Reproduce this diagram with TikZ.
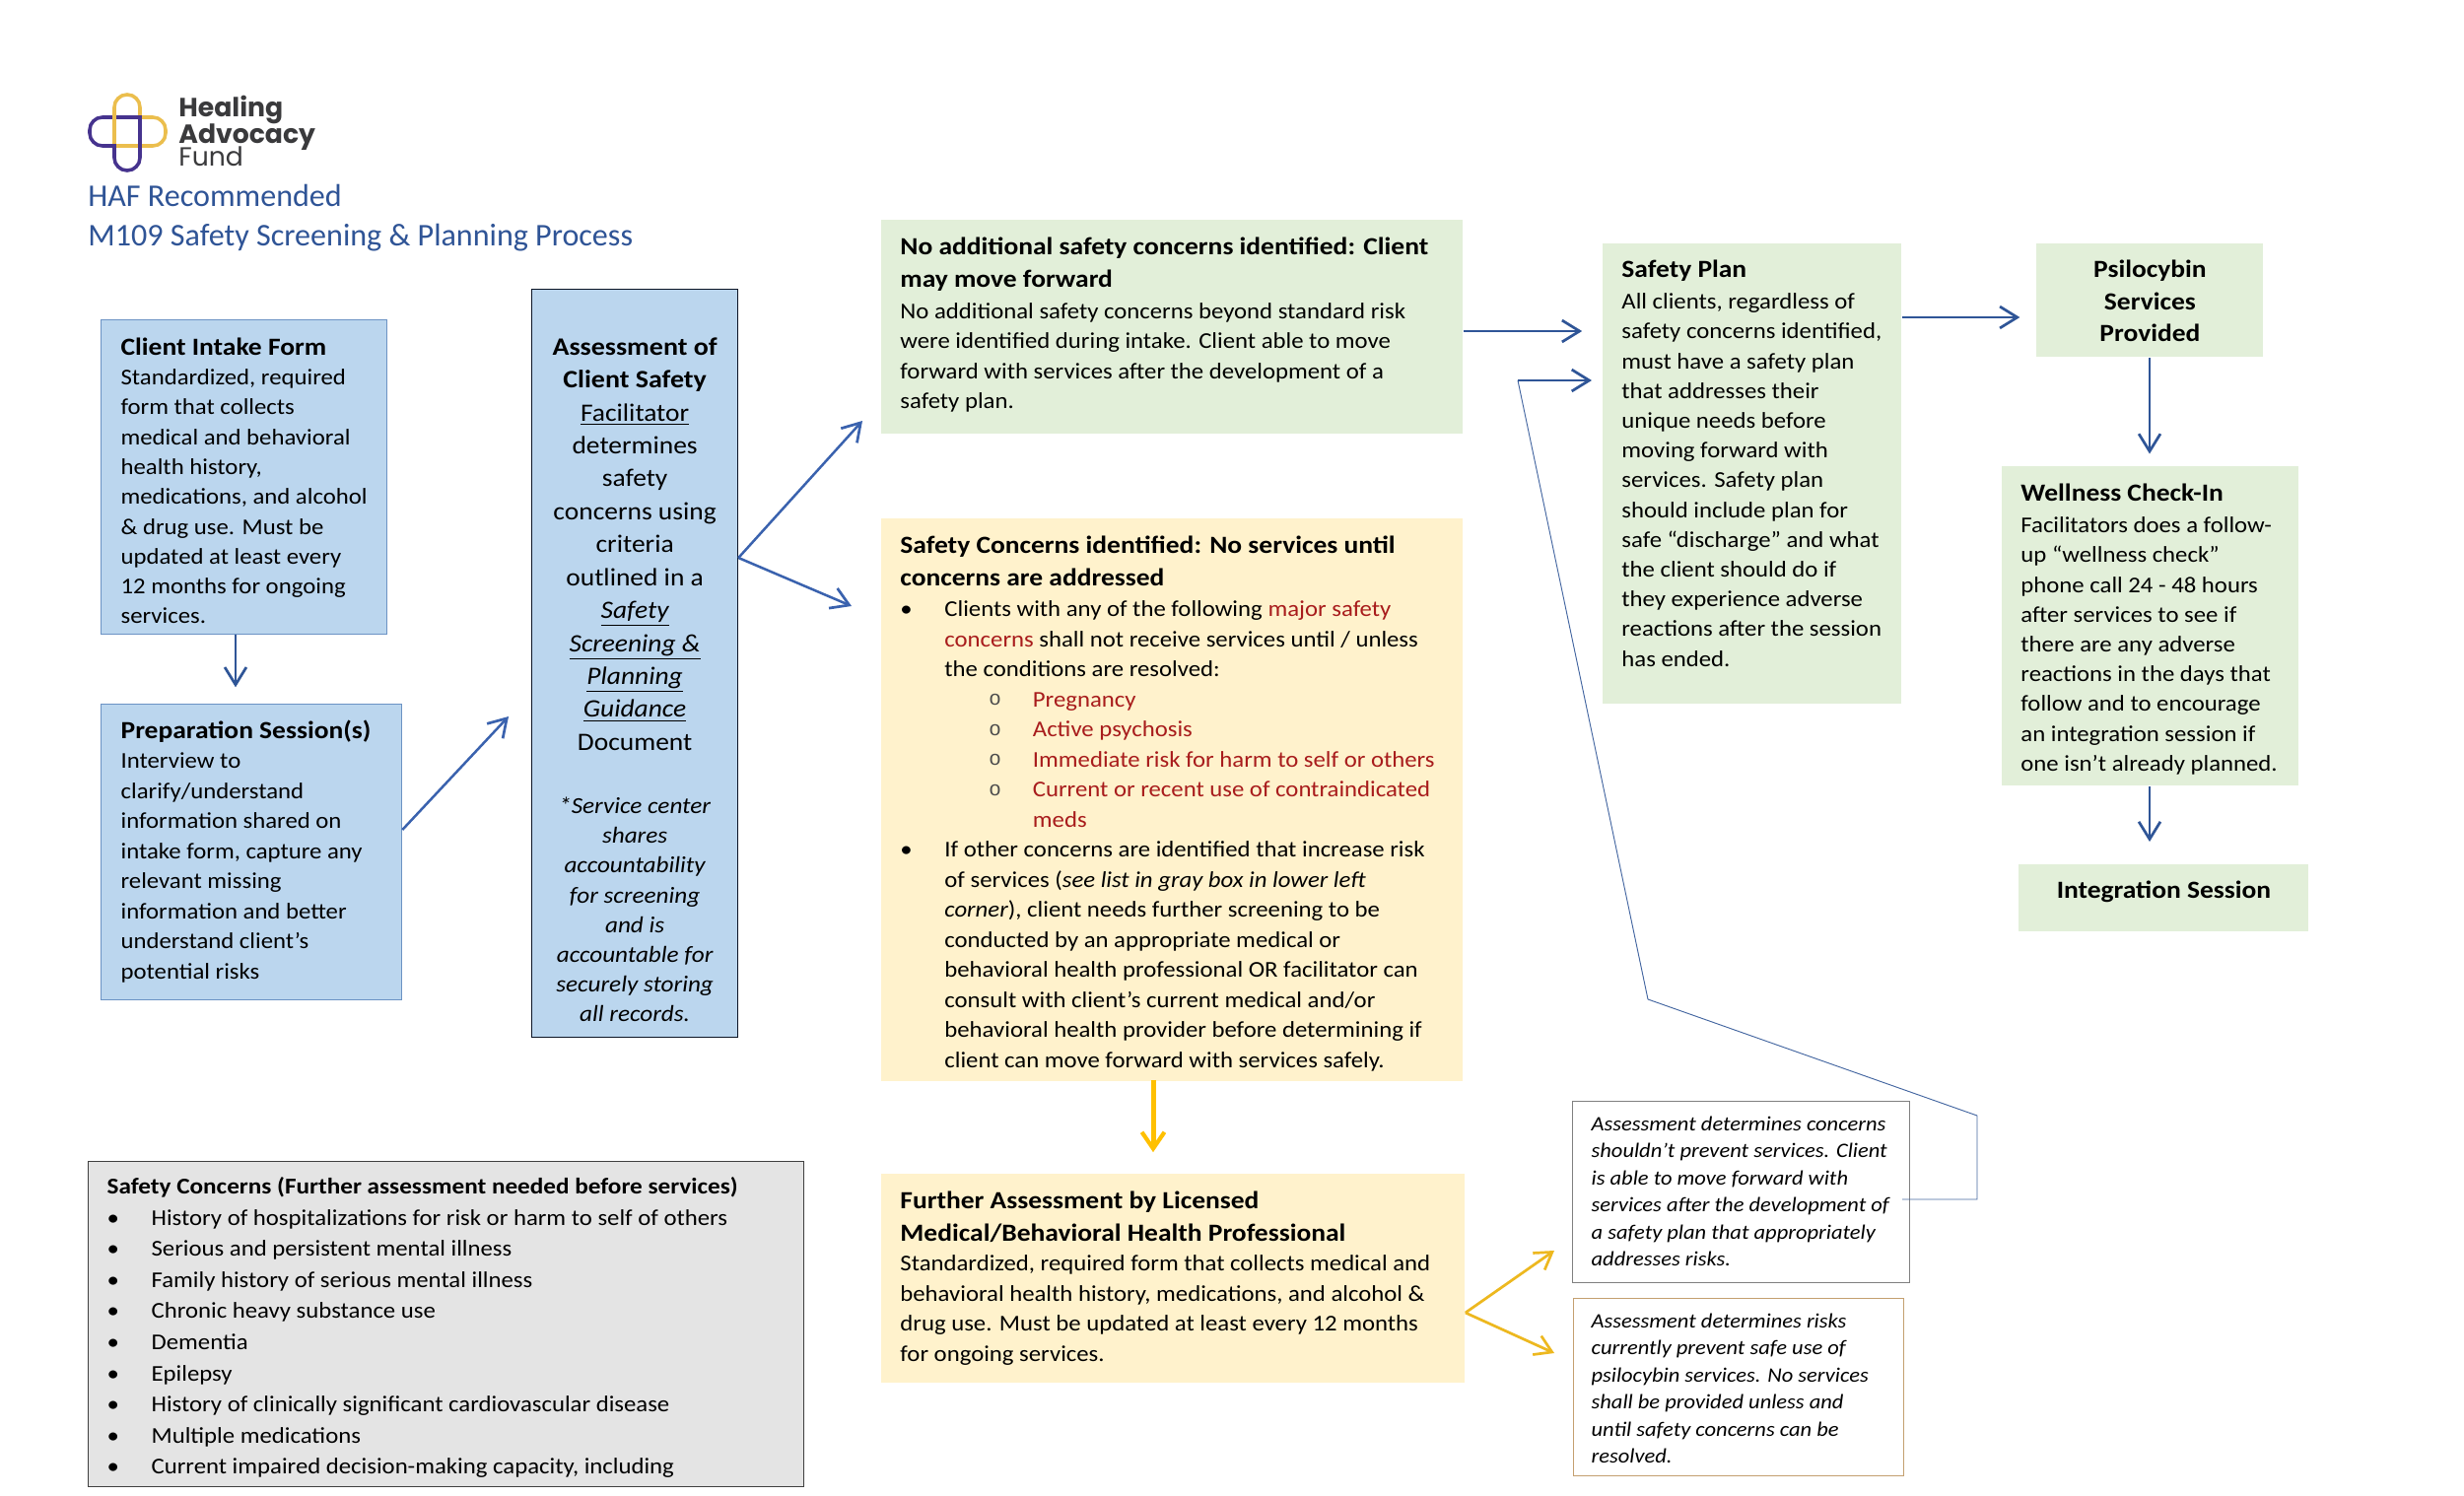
\documentclass[tikz,border=0pt]{standalone}
\usepackage{fontspec}
\usetikzlibrary{arrows.meta}
\setmainfont{Carlito}[FakeStretch=1.08,BoldFeatures={FakeStretch=1.10}]
\newfontfamily\titlefont{Carlito}
\newfontfamily\logofont{Poppins}
\newfontfamily\cmono{Liberation Mono}
\newlength\px \setlength\px{0.48pt}
\definecolor{bluefill}{HTML}{BBD6EE}
\definecolor{greenfill}{HTML}{E2EFD9}
\definecolor{yellowfill}{HTML}{FFF2CC}
\definecolor{grayfill}{HTML}{E4E4E4}
\definecolor{arrowblue}{HTML}{2F5597}
\definecolor{arrowmid}{HTML}{3A62AE}
\definecolor{arrowyellow}{HTML}{EDB81F}
\definecolor{arrowgold}{HTML}{FFC000}
\definecolor{titleblue}{HTML}{2F5496}
\definecolor{darkred}{HTML}{A81C1C}
\definecolor{logoyellow}{HTML}{EBBE4D}
\definecolor{logopurple}{HTML}{46338E}
\definecolor{logotext}{HTML}{3A3A3C}
\definecolor{softblueline}{HTML}{6C93C4}
\definecolor{notetan}{HTML}{C4A070}
\newcommand\bd{\fontsize{11}{14.63}\selectfont}
\newcommand\bs{\vspace*{1.5\px}\fontsize{11}{14.5}\selectfont}
\newcommand\hd{\fontsize{12}{15.6}\selectfont\bfseries}
\newcommand\ssm{\fontsize{10}{13.2}\selectfont\itshape}
\newcommand\gbd{\fontsize{11}{15.15}\selectfont}
\newcommand\red[1]{\textcolor{darkred}{#1}}
\newcommand\bu[1]{\makebox[45\px][l]{\textbullet}#1}
\newcommand\nb[1]{\hspace*{45\px}#1}
\newcommand\sbu[1]{\hspace*{45\px}\hspace*{45\px}\makebox[44.5\px][l]{\cmono\textcolor{black!70}{\raisebox{0.15ex}{\fontsize{10}{10}\selectfont o}}}\red{#1}}
\newcommand\snb[1]{\hspace*{134.5\px}\red{#1}}
\newcommand\gb[1]{\makebox[45\px][l]{\textbullet}#1}
% name, x, y, w, h, style, padx, pady, content
\newcommand\bx[9]{\node[#6,anchor=north west,inner sep=0pt,minimum width=#4*0.48pt,minimum height=#5*0.48pt] (#1) at (#2,#3) {\hspace*{#7\px}\parbox[t][#5\px][t]{\dimexpr#4\px-#7\px\relax}{\vspace*{#8\px}\raggedright #9}};}
\tikzset{
  x=0.48pt,y=-0.48pt,
  bluebox/.style={fill=bluefill,draw=#1,line width=0.6pt},
  greenbox/.style={fill=greenfill},
  yellowbox/.style={fill=yellowfill},
  graybox/.style={fill=grayfill,draw=black!75,line width=0.6pt},
  notebox/.style={fill=white,draw=#1,line width=0.6pt},
  arr/.style={draw=arrowblue,line width=1.2pt,-{Straight Barb[length=8.5pt,width=10.5pt,line width=1.3pt]}},
  arrm/.style={draw=arrowmid,line width=1.2pt,-{Straight Barb[length=8.5pt,width=10.5pt,line width=1.3pt]}},
  yarr/.style={draw=arrowyellow,line width=1.3pt,-{Straight Barb[length=8pt,width=10pt,line width=1.3pt]}},
  yfat/.style={draw=arrowgold,line width=2.4pt,-{Straight Barb[length=8pt,width=11pt,line width=2pt]}},
  thinline/.style={draw=arrowblue!90,line width=0.45pt},
  logoy/.style={draw=logoyellow,line width=1.7pt,rounded corners=6.2pt,line cap=rect},
  logop/.style={draw=logopurple,line width=1.7pt,rounded corners=6.2pt,line cap=rect},
  logotxt/.style={anchor=base west,inner sep=0pt,text=logotext},
  titletxt/.style={anchor=base west,inner sep=0pt,text=titleblue,font=\titlefont\fontsize{15.4}{18}\selectfont},
}
\begin{document}
\begin{tikzpicture}
\useasboundingbox[fill=white] (0,0) rectangle (2500,1518);
% logo
\draw[logop] (142,119) -- (91,119) -- (91,148) -- (116,148);
\draw[logoy] (142,119) -- (142,96) -- (116,96) -- (116,148);
\draw[logoy] (116,148) -- (168,148) -- (168,119) -- (142,119);
\draw[logop] (142,119) -- (142,173) -- (116,173) -- (116,148);
\node[logotxt,font=\logofont\bfseries\fontsize{12.8}{14}\selectfont] (lg1) at (181,119) {Healing};
\node[logotxt,font=\logofont\bfseries\fontsize{12.8}{14}\selectfont] (lg2) at (181,146) {Advocacy};
\node[logotxt,font=\logofont\fontsize{12.8}{14}\selectfont] (lg3) at (181,169) {Fund};
\node[titletxt] (t1) at (89,209) {HAF Recommended};
\node[titletxt] (t2) at (89,249) {M109 Safety Screening \& Planning Process};
% boxes
\bx{client}{102}{324}{290}{319}{bluebox=softblueline}{20}{18}{{\hd Client Intake Form\par}{\fontsize{11}{14.55}\selectfont Standardized, required\\form that collects\\medical and behavioral\\health history,\\medications, and alcohol\\\& drug use. Must be\\updated at least every\\12 months for ongoing\\services.\par}}
\bx{prep}{102}{714}{305}{300}{bluebox=softblueline}{20}{16}{{\hd Preparation Session(s)\par}{\bd Interview to\\clarify/understand\\information shared on\\intake form, capture any\\relevant missing\\information and better\\understand client's\\potential risks\par}}
\bx{assess}{539}{293}{209}{759}{bluebox=black!75!arrowblue}{0}{49}{\centering{\fontsize{12.2}{16.04}\selectfont{\bfseries Assessment of\\Client Safety\\}\underline{Facilitator}\\determines\\safety\\concerns using\\criteria\\outlined in a\\\itshape\underline{Safety}\\\underline{Screening \&}\\\underline{Planning}\\\underline{Guidance}\\\upshape Document\par}\vspace*{34\px}{\fontsize{11.2}{14.5}\selectfont\itshape *Service center\\shares\\accountability\\for screening\\and is\\accountable for\\securely storing\\all records.\par}}
\bx{green}{894}{223}{590}{217}{greenbox}{19}{18}{{\hd No additional safety concerns identified: Client\\may move forward\par}{\vspace*{1.5\px}\bd No additional safety concerns beyond standard risk\\were identified during intake. Client able to move\\forward with services after the development of a\\safety plan.\par}}
\bx{yellow}{894}{526}{590}{571}{yellowbox}{19}{18}{{\hd Safety Concerns identified: No services until\\concerns are addressed\par}{\vspace*{1\px}\bd\bu{Clients with any of the following \red{major safety}}\\\nb{\red{concerns} shall not receive services until / unless}\\\nb{the conditions are resolved:}\\\sbu{Pregnancy}\\\sbu{Active psychosis}\\\sbu{Immediate risk for harm to self or others}\\\sbu{Current or recent use of contraindicated}\\\snb{meds}\\\bu{If other concerns are identified that increase risk}\\\nb{of services (\textit{see list in gray box in lower left}}\\\nb{\textit{corner}), client needs further screening to be}\\\nb{conducted by an appropriate medical or}\\\nb{behavioral health professional OR facilitator can}\\\nb{consult with client’s current medical and/or}\\\nb{behavioral health provider before determining if}\\\nb{client can move forward with services safely.}\par}}
\bx{further}{894}{1191}{592}{212}{yellowbox}{19}{18}{{\hd Further Assessment by Licensed\\Medical/Behavioral Health Professional\par}{\bd Standardized, required form that collects medical and\\behavioral health history, medications, and alcohol \&\\drug use. Must be updated at least every 12 months\\for ongoing services.\par}}
\bx{safety}{1626}{247}{303}{467}{greenbox}{19}{17}{{\hd Safety Plan\par}{\bs All clients, regardless of\\safety concerns identified,\\must have a safety plan\\that addresses their\\unique needs before\\moving forward with\\services. Safety plan\\should include plan for\\safe “discharge” and what\\the client should do if\\they experience adverse\\reactions after the session\\has ended.\par}}
\bx{psilo}{2066}{247}{230}{115}{greenbox}{0}{17}{\centering{\hd Psilocybin\\Services\\Provided\par}}
\bx{well}{2031}{473}{301}{324}{greenbox}{19}{18}{{\hd Wellness Check-In\par}{\bs Facilitators does a follow-\\up “wellness check”\\phone call 24 - 48 hours\\after services to see if\\there are any adverse\\reactions in the days that\\follow and to encourage\\an integration session if\\one isn’t already planned.\par}}
\bx{integ}{2048}{877}{294}{68}{greenbox}{0}{17}{\centering{\hd Integration Session\par}}
\bx{noteA}{1595}{1117}{342}{184}{notebox=black!50}{19}{15}{{\ssm Assessment determines concerns\\shouldn’t prevent services. Client\\is able to move forward with\\services after the development of\\a safety plan that appropriately\\addresses risks.\par}}
\bx{noteB}{1596}{1317}{335}{180}{notebox=notetan}{18}{15}{{\ssm Assessment determines risks\\currently prevent safe use of\\psilocybin services. No services\\shall be provided unless and\\until safety concerns can be\\resolved.\par}}
\bx{gray}{89}{1178}{726}{330}{graybox}{19}{16}{{\fontsize{11}{15.15}\selectfont\bfseries Safety Concerns (Further assessment needed before services)\par}{\gbd\gb{History of hospitalizations for risk or harm to self of others}\\\gb{Serious and persistent mental illness}\\\gb{Family history of serious mental illness}\\\gb{Chronic heavy substance use}\\\gb{Dementia}\\\gb{Epilepsy}\\\gb{History of clinically significant cardiovascular disease}\\\gb{Multiple medications}\\\gb{Current impaired decision-making capacity, including}\par}}
% connector levels and tips
\coordinate (yPrep) at (0,842);
\coordinate (yAssess) at (0,566);
\coordinate (yGreen) at (0,336);
\coordinate (yPsilo) at (0,322);
\coordinate (yFurther) at (0,1332);
\coordinate (xClient) at (239,0);
\coordinate (xYellow) at (1170,0);
\coordinate (xWell) at (2181,0);
\coordinate (tipPrep) at (516,727);
\coordinate (tipGreen) at (875,427);
\coordinate (tipYellow) at (864,615);
\coordinate (tipA) at (1577,1269);
\coordinate (tipB) at (1577,1373);
\coordinate (loopS) at (1930,1217);
\coordinate (loop1) at (2006,1217);
\coordinate (loop2) at (2006,1132);
\coordinate (loop3) at (1672,1014);
\coordinate (loop4) at (1540,386);
\coordinate (loopE) at (1615,386);
% connectors
\draw[arr,shorten >=8pt] (client.south -| xClient) -- (prep.north -| xClient);
\draw[arrm] (prep.east |- yPrep) -- (tipPrep);
\draw[arrm] (assess.east |- yAssess) -- (tipGreen);
\draw[arrm] (assess.east |- yAssess) -- (tipYellow);
\draw[arr,shorten >=10pt] (green.east |- yGreen) -- (safety.west |- yGreen);
\draw[arr,shorten >=8pt] (safety.east |- yPsilo) -- (psilo.west |- yPsilo);
\draw[arr,shorten >=6pt] (psilo.south -| xWell) -- (well.north -| xWell);
\draw[arr,shorten >=11pt] (well.south -| xWell) -- (integ.north -| xWell);
\draw[yfat,shorten >=10.5pt,shorten <=-1pt] (yellow.south -| xYellow) -- (further.north -| xYellow);
\draw[yarr] (further.east |- yFurther) -- (tipA);
\draw[yarr] (further.east |- yFurther) -- (tipB);
\draw[thinline] (loopS) -- (loop1) -- (loop2) -- (loop3) -- (loop4);
\draw[arr] (loop4) -- (loopE);
\end{tikzpicture}
\end{document}
